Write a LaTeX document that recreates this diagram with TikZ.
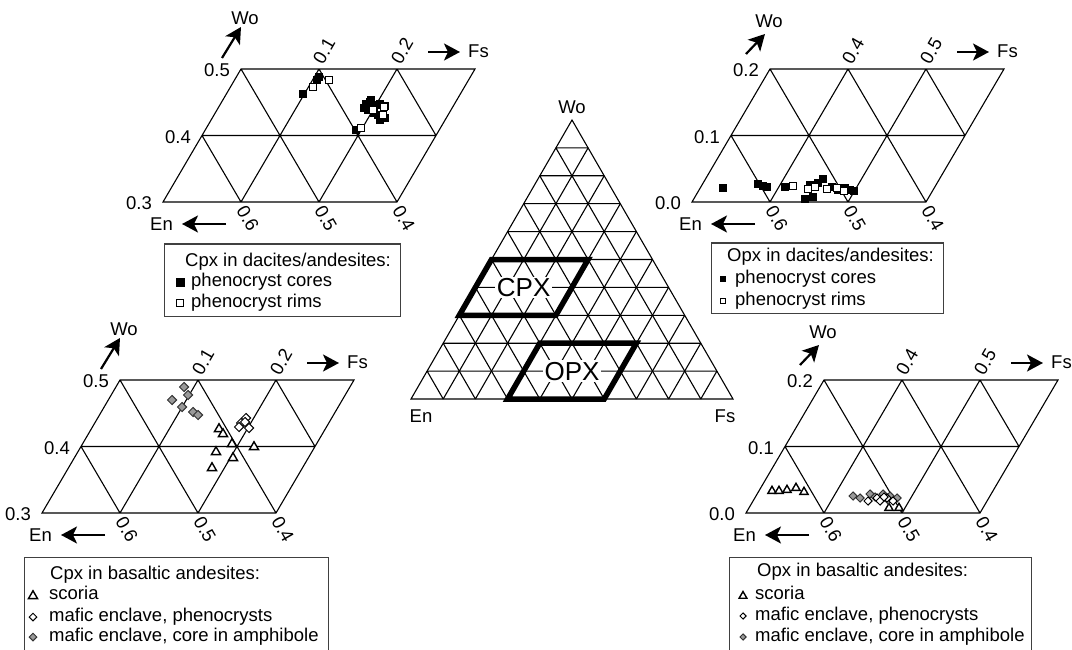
\documentclass[tikz,border=0pt]{standalone}
\usepackage{fontspec}
\setmainfont{Liberation Sans}
\usetikzlibrary{arrows.meta,shapes.geometric}

\tikzset{
  lbl/.style={font=\fontsize{18.5}{22}\selectfont, inner sep=0pt, text height=13pt, text depth=3.5pt},
  big/.style={font=\fontsize{26}{30}\selectfont, inner sep=1.5pt, fill=white},
  gridline/.style={line width=1.1pt},
  axarrow/.style={line width=2.2pt, -{Stealth[length=16pt,width=17pt,inset=4pt]}},
  field/.style={line width=5.5pt},
  legbox/.style={line width=1pt, draw=black!75},
  core/.style={rectangle, fill=black, draw=black, line width=0.6pt, minimum size=7pt, inner sep=0pt},
  rim/.style={rectangle, fill=white, draw=black, line width=1pt, minimum size=7.5pt, inner sep=0pt},
  scoria/.style={regular polygon, regular polygon sides=3, draw=black, fill=white, line width=1.4pt, minimum size=10.5pt, inner sep=0pt},
  phen/.style={diamond, aspect=1, draw=black, fill=white, line width=1pt, minimum size=9.5pt, inner sep=0pt},
  amph/.style={phen, fill=black!40, draw=black!80},
}

\begin{document}
\begin{tikzpicture}[x=1pt,y=-1pt]
\useasboundingbox (0,0) rectangle (1072,650);
\clip (0,0) rectangle (1072,650);

% the four cut-outs of the quadrilateral
\foreach \ox/\oy in {163/202,692/202,42/513,746/513}{
  \begin{scope}[shift={(\ox,\oy)}]
    \begin{scope}[x={(78pt,0pt)},y={(39pt,66.5pt)}]
      \draw[gridline] (0,0) -- (3,0) -- (3,2) -- (0,2) -- cycle
        (1,0) -- (1,2) (2,0) -- (2,2) (0,1) -- (3,1)
        (0,1) -- (1,0) (0,2) -- (2,0) (1,2) -- (3,0) (2,2) -- (3,1);
    \end{scope}
    \draw[axarrow] (63,22) -- (19,22);
    \node[lbl,anchor=east] (en-\ox-\oy) at (10,24) {En};
    \draw[axarrow] (265,-150) -- (297,-150);
    \node[lbl,anchor=west] (fs-\ox-\oy) at (305,-149) {Fs};
    \node[lbl,rotate=-60,anchor=west] (ena-\ox-\oy) at (77,6) {0.6};
    \node[lbl,rotate=-60,anchor=west] (enb-\ox-\oy) at (155,6) {0.5};
    \node[lbl,rotate=-60,anchor=west] (enc-\ox-\oy) at (233,6) {0.4};
  \end{scope}
}

% Cpx axes
\foreach \ox/\oy in {163/202,42/513}{
  \begin{scope}[shift={(\ox,\oy)}]
    \draw[axarrow] (59,-144) -- (78,-175);
    \node[lbl] (wo-\ox) at (82,-182) {Wo};
    \node[lbl,anchor=east] (woa-\ox) at (67,-130) {0.5};
    \node[lbl,anchor=east] (wob-\ox) at (28,-63.5) {0.4};
    \node[lbl,anchor=east] (woc-\ox) at (-11,3) {0.3};
    \node[lbl,rotate=60,anchor=west] (fsa-\ox) at (156,-139) {0.1};
    \node[lbl,rotate=60,anchor=west] (fsb-\ox) at (234,-139) {0.2};
  \end{scope}
}

% Opx axes
\foreach \ox/\oy in {692/202,746/513}{
  \begin{scope}[shift={(\ox,\oy)}]
    \draw[axarrow] (54,-148) -- (73,-168);
    \node[lbl] (wo-\ox) at (77,-179) {Wo};
    \node[lbl,anchor=east] (woa-\ox) at (67,-130) {0.2};
    \node[lbl,anchor=east] (wob-\ox) at (28,-63.5) {0.1};
    \node[lbl,anchor=east] (woc-\ox) at (-11,3) {0.0};
    \node[lbl,rotate=60,anchor=west] (fsa-\ox) at (156,-139) {0.4};
    \node[lbl,rotate=60,anchor=west] (fsb-\ox) at (234,-139) {0.5};
  \end{scope}
}

% pyroxene triangle
\begin{scope}[shift={(411,399)},x={(32.2pt,0pt)},y={(16.1pt,27.9pt)}]
  \draw[gridline] (0,0) -- (10,0) -- (0,10) -- cycle;
  \foreach \k in {1,...,9}
    \draw[gridline] (0,\k) -- (10-\k,\k) (\k,0) -- (\k,10-\k) (0,\k) -- (\k,0);
  \draw[field] (0,3) -- (3,3) -- (3,5) -- (0,5) -- cycle;
  \draw[field] (3,0) -- (6,0) -- (6,2) -- (3,2) -- cycle;
  \node[big] (cpx) at (1.5,4) {CPX};
  \node[big] (opx) at (4.5,1) {OPX};
  \node[lbl,above=3pt] (wo) at (0,10) {Wo};
  \node[lbl,below=10pt,xshift=10pt] (en) at (0,0) {En};
  \node[lbl,below=10pt,xshift=-8pt] (fs) at (10,0) {Fs};
\end{scope}

% Cpx in dacites/andesites
\foreach \px/\py [count=\i] in {303/94,319/77,317/80,356/130,366/104,370/102,372/107,376/105,
    380/104,368/110,374/113,378/115,383/116,385/118,380/120,371/100,385/106,364/108}
  \node[core] (tlc\i) at (\px,\py) {};
\foreach \px/\py [count=\i] in {313/87,329/80,361/128,373/110,384/107,383/115}
  \node[rim] (tlr\i) at (\px,\py) {};

% Opx in dacites/andesites
\foreach \px/\py [count=\i] in {723/188,758/184,763/186,767/187,785/187,805/199,813/197,818/183,
    823/179,810/185,832/187,838/190,845/188,850/190,854/191}
  \node[core,minimum size=6.5pt] (trc\i) at (\px,\py) {};
\foreach \px/\py [count=\i] in {793/186,808/189,815/187,827/189,837/188,844/191}
  \node[rim,minimum size=7pt] (trr\i) at (\px,\py) {};

% Cpx in basaltic andesites
\foreach \px/\py [count=\i] in {184/387,188/395,172/400,182/407,193/412,198/415}
  \node[amph] (bla\i) at (\px,\py) {};
\foreach \px/\py [count=\i] in {246/418,241/423,249/428,245/422,239/427}
  \node[phen] (blp\i) at (\px,\py) {};
\foreach \px/\py [count=\i] in {219/429,223/434,232/444,254/447,216/452,233/458,212/468}
  \node[scoria] (bls\i) at (\px,\py) {};

% Opx in basaltic andesites
\foreach \px/\py [count=\i] in {772/491,779/491,787/490,796/488,804/492,889/508,899/508}
  \node[scoria,minimum size=9.5pt] (brs\i) at (\px,\py) {};
\foreach \px/\py [count=\i] in {853/496,860/498,870/494,875/497,883/494,890/496,897/498,888/500}
  \node[amph,minimum size=8.5pt] (bra\i) at (\px,\py) {};
\foreach \px/\py [count=\i] in {868/501,877/498,880/501,887/498,893/501,884/497}
  \node[phen,minimum size=8.5pt] (brp\i) at (\px,\py) {};

% legends
\draw[legbox] (164,244) rectangle (400,316);
\node[lbl,anchor=west] (tltitle) at (185,262) {Cpx in dacites/andesites:};
\node[core,minimum size=8pt] (tlkey1) at (180,282) {};
\node[lbl,anchor=west] (tlitem1) at (191,282) {phenocryst cores};
\node[rim,minimum size=7.5pt] (tlkey2) at (180,303) {};
\node[lbl,anchor=west] (tlitem2) at (191,303) {phenocryst rims};

\draw[legbox] (711,243) rectangle (943,313);
\node[lbl,anchor=west] (trtitle) at (727,257) {Opx in dacites/andesites:};
\node[core,minimum size=5pt] (trkey1) at (723,279) {};
\node[lbl,anchor=west] (tritem1) at (735,279) {phenocryst cores};
\node[rim,minimum size=5pt,line width=0.7pt] (trkey2) at (723,301) {};
\node[lbl,anchor=west] (tritem2) at (735,301) {phenocryst rims};

\draw[legbox] (24,660) -- (24,557) -- (328,557) -- (328,660);
\node[lbl,anchor=west] (bltitle) at (50,575) {Cpx in basaltic andesites:};
\node[scoria] (blkey1) at (33,596) {};
\node[lbl,anchor=west] (blitem1) at (49,595) {scoria};
\node[phen,minimum size=8pt] (blkey2) at (33,617) {};
\node[lbl,anchor=west] (blitem2) at (49,617) {mafic enclave, phenocrysts};
\node[amph,minimum size=8pt] (blkey3) at (33,637) {};
\node[lbl,anchor=west] (blitem3) at (49,637) {mafic enclave, core in amphibole};

\draw[legbox] (729,660) -- (729,557) -- (1031,557) -- (1031,660);
\node[lbl,anchor=west] (brtitle) at (757,572) {Opx in basaltic andesites:};
\node[scoria,minimum size=9pt] (brkey1) at (743,596) {};
\node[lbl,anchor=west] (britem1) at (755,595) {scoria};
\node[phen,minimum size=6.5pt] (brkey2) at (743,616) {};
\node[lbl,anchor=west] (britem2) at (755,616) {mafic enclave, phenocrysts};
\node[amph,minimum size=6.5pt] (brkey3) at (743,637) {};
\node[lbl,anchor=west] (britem3) at (755,637) {mafic enclave, core in amphibole};
\end{tikzpicture}
\end{document}
